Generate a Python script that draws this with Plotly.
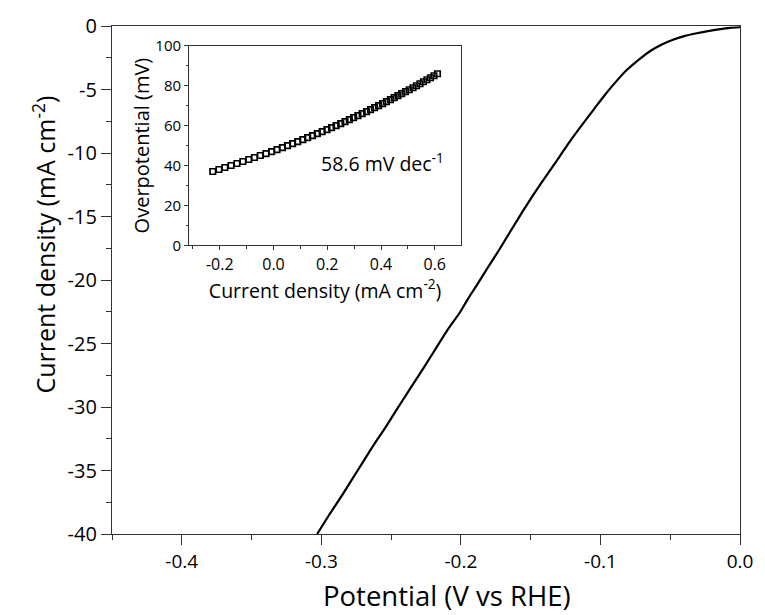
import plotly.graph_objects as go

# Main LSV curve (potential V vs RHE, current density mA cm-2)
potential = [-0.303, -0.295, -0.286, -0.278, -0.270, -0.262, -0.254, -0.246, -0.236,
             -0.226, -0.218, -0.210, -0.201, -0.195, -0.188, -0.180, -0.173, -0.163,
             -0.154, -0.142, -0.130, -0.122, -0.114, -0.105, -0.097, -0.089, -0.081,
             -0.072, -0.064, -0.056, -0.048, -0.040, -0.031, -0.022, -0.014, -0.007, 0.000]
current = [-40.0, -38.6, -37.1, -35.7, -34.3, -32.9, -31.6, -30.2, -28.5,
           -26.8, -25.4, -24.0, -22.6, -21.5, -20.3, -18.9, -17.7, -15.9,
           -14.3, -12.3, -10.4, -9.1, -7.9, -6.6, -5.45, -4.4, -3.45,
           -2.6, -1.95, -1.45, -1.08, -0.80, -0.57, -0.38, -0.24, -0.15, -0.10]

# Inset Tafel data
tafel_x = [-0.226, -0.203, -0.181, -0.158, -0.136, -0.114, -0.092, -0.071, -0.049, -0.028,
           -0.007, 0.013, 0.033, 0.052, 0.071, 0.090, 0.109, 0.127, 0.145, 0.163,
           0.181, 0.199, 0.216, 0.233, 0.250, 0.266, 0.282, 0.298, 0.314, 0.330,
           0.346, 0.361, 0.376, 0.391, 0.406, 0.420, 0.435, 0.449, 0.463, 0.477,
           0.491, 0.505, 0.519, 0.532, 0.545, 0.558, 0.571, 0.584, 0.597, 0.610]
tafel_y = [37, 38, 39, 40, 41, 42, 43, 44, 45, 46,
           47, 48, 49, 50, 51, 52, 53, 54, 55, 56,
           57, 58, 59, 60, 61, 62, 63, 64, 65, 66,
           67, 68, 69, 70, 71, 72, 73, 74, 75, 76,
           77, 78, 79, 80, 81, 82, 83, 84, 85, 86]

main_xticks = [-0.4, -0.3, -0.2, -0.1, 0.0]
main_xtext = ["-0.4", "-0.3", "-0.2", "-0.1", "0.0"]
main_yticks = [0, -5, -10, -15, -20, -25, -30, -35, -40]
main_ytext = ["0", "-5", "-10", "-15", "-20", "-25", "-30", "-35", "-40"]
inset_xticks = [-0.2, 0.0, 0.2, 0.4, 0.6]
inset_xtext = ["-0.2", "0.0", "0.2", "0.4", "0.6"]
inset_yticks = [0, 20, 40, 60, 80, 100]
inset_ytext = ["0", "20", "40", "60", "80", "100"]

FONT = "Open Sans"
AX = "#333333"

fig = go.Figure()
fig.add_trace(go.Scatter(x=potential, y=current, mode="lines",
                         line=dict(color="black", width=2.2, shape="spline", smoothing=0.8),
                         showlegend=False))
fig.add_trace(go.Scatter(x=tafel_x, y=tafel_y, mode="markers", xaxis="x2", yaxis="y2",
                         marker=dict(symbol="square-open", size=5.5, color="black",
                                     line=dict(width=1.7, color="black")),
                         showlegend=False))

fig.update_layout(
    width=765, height=615,
    margin=dict(l=112, r=18, t=22, b=81),
    paper_bgcolor="white", plot_bgcolor="white",
    font=dict(family=FONT, color="black"),
    xaxis=dict(range=[-0.45, 0.0], tickvals=main_xticks, ticktext=main_xtext,
               ticks="outside", ticklen=10, tickwidth=1.2, tickcolor=AX,
               minor=dict(dtick=0.05, tick0=0, ticks="outside", ticklen=5, tickcolor=AX, tickwidth=1.2),
               showline=True, linecolor=AX, linewidth=1.3, mirror=True,
               showgrid=False, zeroline=False,
               tickfont=dict(size=19, family=FONT)),
    yaxis=dict(range=[-40, 0], tickvals=main_yticks, ticktext=main_ytext,
               ticks="outside", ticklen=10, tickwidth=1.2, tickcolor=AX,
               minor=dict(dtick=2.5, tick0=0, ticks="outside", ticklen=5, tickcolor=AX, tickwidth=1.2),
               showline=True, linecolor=AX, linewidth=1.3, mirror=True,
               showgrid=False, zeroline=False,
               tickfont=dict(size=20, family=FONT)),
    xaxis2=dict(domain=[0.1228, 0.5559], anchor="y2", range=[-0.314, 0.698],
                tickvals=inset_xticks, ticktext=inset_xtext,
                ticks="outside", ticklen=4, tickwidth=1, tickcolor=AX,
                minor=dict(dtick=0.1, tick0=0, ticks="outside", ticklen=2.5, tickcolor=AX, tickwidth=1),
                showline=True, linecolor=AX, linewidth=1.1, mirror=True,
                showgrid=False, zeroline=False,
                tickfont=dict(size=16, family=FONT),
                title=dict(text="Current density (mA cm<sup>-2</sup>)", font=dict(size=19.5, family=FONT), standoff=0)),
    yaxis2=dict(domain=[0.5684, 0.9609], anchor="x2", range=[0, 100],
                tickvals=inset_yticks, ticktext=inset_ytext,
                ticks="outside", ticklen=4, tickwidth=1, tickcolor=AX,
                minor=dict(dtick=10, tick0=0, ticks="outside", ticklen=2.5, tickcolor=AX, tickwidth=1),
                showline=True, linecolor=AX, linewidth=1.1, mirror=True,
                showgrid=False, zeroline=False,
                tickfont=dict(size=15, family=FONT),
                title=dict(text="Overpotential (mV)", font=dict(size=20, family=FONT), standoff=0)),
    annotations=[
        dict(text="58.6 mV dec<sup>-1</sup>", x=0.404, y=41.4, xref="x2", yref="y2",
             showarrow=False, font=dict(size=19.5, family=FONT, color="black"),
             xanchor="center", yanchor="middle"),
        dict(text="Potential (V vs RHE)", x=0.534, y=-0.121, xref="paper", yref="paper",
             showarrow=False, font=dict(size=27.5, family=FONT, color="black"),
             xanchor="center", yanchor="middle"),
        dict(text="Current density (mA cm<sup>-2</sup>)", x=-0.108, y=0.57, xref="paper", yref="paper",
             showarrow=False, textangle=-90, font=dict(size=25, family=FONT, color="black"),
             xanchor="center", yanchor="middle"),
    ],
)

fig.write_html("out.html")
